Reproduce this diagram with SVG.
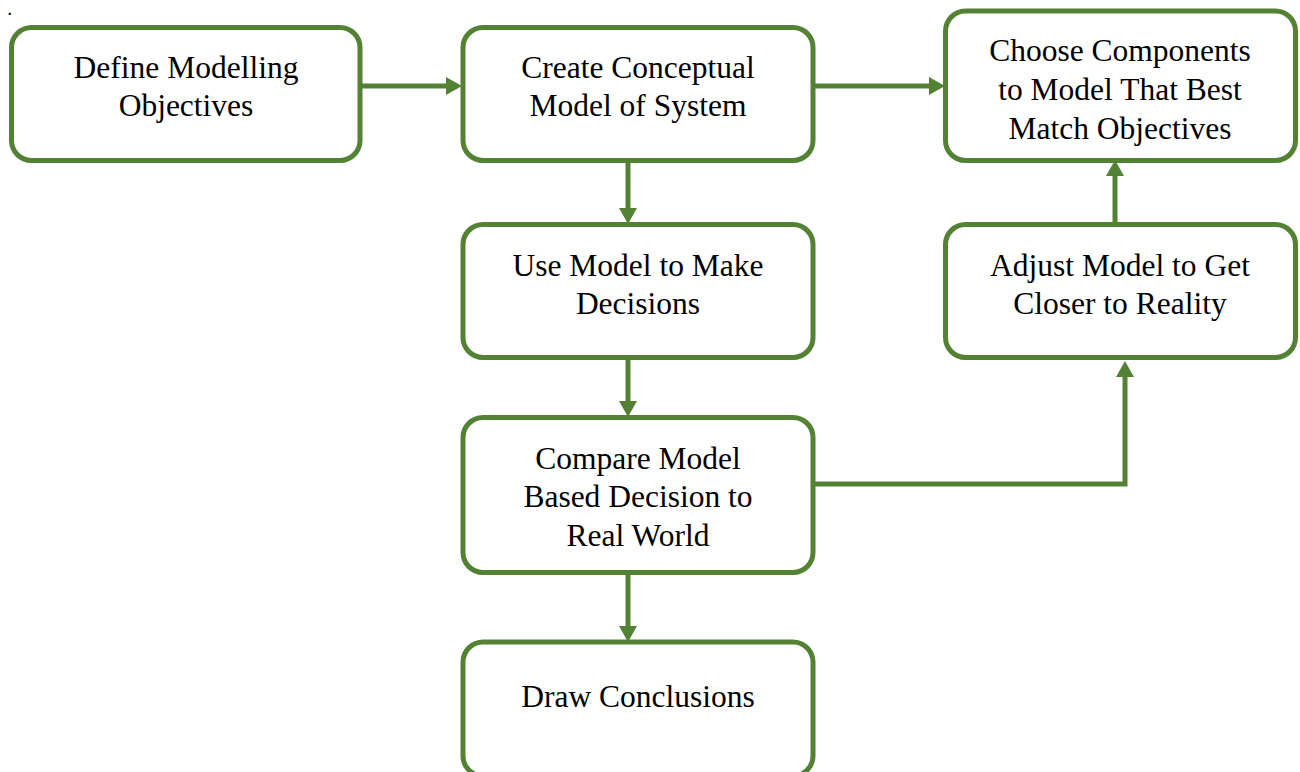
<svg xmlns="http://www.w3.org/2000/svg" width="1300" height="772" viewBox="0 0 1300 772">
<style>
.box{fill:#ffffff;stroke:#548235;stroke-width:5}
.t{font-family:"Liberation Serif","Times New Roman",serif;font-size:31.5px;fill:#000;text-anchor:middle}
.c{fill:none;stroke:#548235;stroke-width:5}
</style>
<defs>
<marker id="ah" markerUnits="userSpaceOnUse" markerWidth="17" markerHeight="19" refX="8" refY="9" orient="auto" viewBox="0 0 17 19">
<path d="M0,0 L16,9 L0,18 Z" fill="#548235"/>
</marker>
</defs>
<rect width="1300" height="772" fill="#ffffff"/>
<text x="8" y="15" style="font-family:'Liberation Serif',serif;font-size:14px;font-weight:bold">.</text>
<g id="connectors">
<path class="c" d="M361,86 H454" marker-end="url(#ah)"/>
<path class="c" d="M814,86 H937" marker-end="url(#ah)"/>
<path class="c" d="M628,160 V216" marker-end="url(#ah)"/>
<path class="c" d="M628,358 V409" marker-end="url(#ah)"/>
<path class="c" d="M814,484 H1125 V369" marker-end="url(#ah)"/>
<path class="c" d="M1115,224 V168" marker-end="url(#ah)"/>
<path class="c" d="M628,573 V634" marker-end="url(#ah)"/>
</g>
<g id="n1"><rect class="box" x="11.5" y="27.5" width="348.5" height="133" rx="20"/>
<text class="t" x="186" y="78">Define Modelling</text><text class="t" x="186" y="116">Objectives</text></g>
<g id="n2"><rect class="box" x="463" y="27.5" width="350" height="133" rx="20"/>
<text class="t" x="638" y="78">Create Conceptual</text><text class="t" x="638" y="116">Model of System</text></g>
<g id="n3"><rect class="box" x="945.5" y="11" width="350" height="149.5" rx="20"/>
<text class="t" x="1120" y="61">Choose Components</text><text class="t" x="1120" y="100">to Model That Best</text><text class="t" x="1120" y="139">Match Objectives</text></g>
<g id="n4"><rect class="box" x="463" y="224.5" width="350" height="133" rx="20"/>
<text class="t" x="638" y="276">Use Model to Make</text><text class="t" x="638" y="314">Decisions</text></g>
<g id="n5"><rect class="box" x="945.5" y="224.5" width="350" height="133" rx="20"/>
<text class="t" x="1120" y="276">Adjust Model to Get</text><text class="t" x="1120" y="314">Closer to Reality</text></g>
<g id="n6"><rect class="box" x="463" y="417.5" width="350" height="155" rx="20"/>
<text class="t" x="638" y="469">Compare Model</text><text class="t" x="638" y="507">Based Decision to</text><text class="t" x="638" y="546">Real World</text></g>
<g id="n7"><rect class="box" x="463" y="642" width="350" height="134" rx="20"/>
<text class="t" x="638" y="707">Draw Conclusions</text></g>
</svg>
